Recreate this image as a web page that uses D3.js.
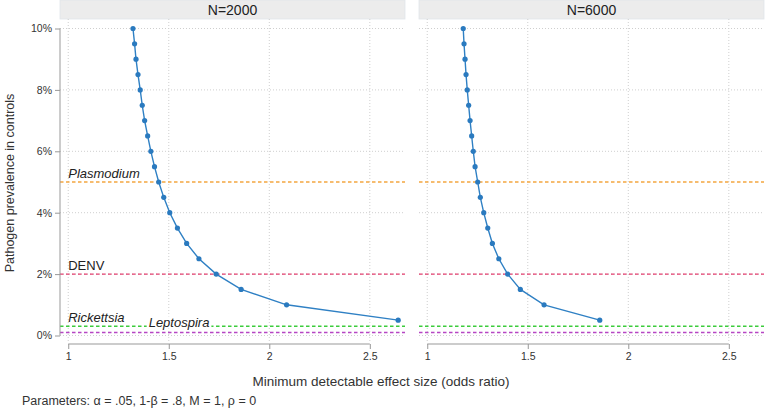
<!DOCTYPE html>
<html>
<head>
<meta charset="utf-8">
<script src="https://cdn.jsdelivr.net/npm/d3@7"></script>
<style>
  body { margin: 0; background: #fff; }
  text { font-family: "Liberation Sans", Arial, sans-serif; fill: #333; }
</style>
</head>
<body>
<div id="chart"></div>
<script>
// Data //
var panels = ["N=2000", "N=6000"];
var prevalence = [10, 9.5, 9, 8.5, 8, 7.5, 7, 6.5, 6, 5.5, 5, 4.5, 4, 3.5, 3, 2.5, 2, 1.5, 1, 0.5];
var oddsN2000 = [1.322, 1.330, 1.337, 1.347, 1.358, 1.368, 1.380, 1.395, 1.411, 1.429, 1.450, 1.475, 1.505, 1.543, 1.589, 1.650, 1.736, 1.860, 2.086, 2.641];
var oddsN6000 = [1.179, 1.183, 1.188, 1.193, 1.199, 1.206, 1.213, 1.221, 1.229, 1.238, 1.251, 1.264, 1.281, 1.301, 1.324, 1.356, 1.400, 1.463, 1.581, 1.858];
var pathogens = ["Plasmodium", "DENV", "Rickettsia", "Leptospira"];
var pathogenPrev = [5, 2, 0.3, 0.1];
var pathogenColors = ["#f3a640", "#e43c6e", "#3ccc3c", "#b646c4"];
var xTicks = [1, 1.5, 2, 2.5];
var yTicks = [0, 2, 4, 6, 8, 10];

// SVG Setup //
var width = 768, height = 410;
var svg = d3.select("#chart").append("svg")
  .attr("width", width)
  .attr("height", height);

var plotTop = 19, plotBottom = 343, headerH = 19;
var panelX = [60, 419], panelW = 345;
var curves = [oddsN2000, oddsN6000];

var y = d3.scaleLinear()
  .domain([0, 10])
  .range([335.5, 28.5]);

panels.forEach(function(name, p) {
  var x = d3.scaleLinear()
    .domain([0.959, 2.675])
    .range([panelX[p], panelX[p] + panelW]);

  var g = svg.append("g").attr("class", "panel");

  // header strip
  g.append("rect")
    .attr("x", panelX[p]).attr("y", 0)
    .attr("width", panelW).attr("height", headerH)
    .attr("fill", "#ececec")
    .attr("stroke", "#e2e6ea")
    .attr("stroke-width", 0.8);
  g.append("text")
    .attr("x", panelX[p] + panelW / 2)
    .attr("y", 15)
    .attr("text-anchor", "middle")
    .style("font-size", "14px")
    .style("fill", "#222")
    .text(name);

  // grid
  g.selectAll(".vgrid").data(xTicks).enter().append("line")
    .attr("x1", x).attr("x2", x)
    .attr("y1", plotTop).attr("y2", plotBottom)
    .attr("stroke", "#cfcfcf").attr("stroke-dasharray", "1,2");
  g.selectAll(".hgrid").data(yTicks).enter().append("line")
    .attr("x1", panelX[p]).attr("x2", panelX[p] + panelW)
    .attr("y1", y).attr("y2", y)
    .attr("stroke", "#cfcfcf").attr("stroke-dasharray", "1,2");

  // pathogen reference lines
  g.selectAll(".ref").data(pathogenPrev).enter().append("line")
    .attr("x1", panelX[p]).attr("x2", panelX[p] + panelW)
    .attr("y1", function(d) { return y(d); })
    .attr("y2", function(d) { return y(d); })
    .attr("stroke", function(d, i) { return pathogenColors[i]; })
    .attr("stroke-width", 1.4)
    .attr("stroke-dasharray", "3.5,2.5");

  // labels only on first panel
  if (p === 0) {
    var labX = [x(1), x(1), x(1), x(1.4)];
    var labDy = [-4.5, -4.5, -4.5, -5];
    pathogens.forEach(function(lab, i) {
      var t = g.append("text")
        .attr("x", labX[i])
        .attr("y", y(pathogenPrev[i]) + labDy[i])
        .style("font-size", "13px")
        .style("font-style", lab === "DENV" ? "normal" : "italic")
        .style("fill", "#222")
        .text(lab);
      if (lab === "Leptospira") {
        var bb = t.node().getBBox();
        g.insert("rect", function() { return t.node(); })
          .attr("x", bb.x - 2).attr("y", bb.y + 1)
          .attr("width", bb.width + 4).attr("height", bb.height - 3)
          .attr("fill", "#fff");
      }
    });
  }

  // curve
  var pts = prevalence.map(function(d, i) { return {p: d, or: curves[p][i]}; });
  var line = d3.line()
    .x(function(d) { return x(d.or); })
    .y(function(d) { return y(d.p); });
  g.append("path")
    .datum(pts)
    .attr("d", line)
    .attr("fill", "none")
    .attr("stroke", "#2f80c4")
    .attr("stroke-width", 1.4);
  g.selectAll(".dot").data(pts).enter().append("circle")
    .attr("cx", function(d) { return x(d.or); })
    .attr("cy", function(d) { return y(d.p); })
    .attr("r", 2.6)
    .attr("fill", "#2a7abf");

  // x axis
  var xAxis = d3.axisBottom(x)
    .tickValues(xTicks)
    .tickSize(5)
    .tickSizeOuter(0)
    .tickFormat(function(d) { return d; });
  var ga = g.append("g")
    .attr("transform", "translate(0," + 344 + ")")
    .call(xAxis);
  ga.select(".domain").attr("d", "M" + x(1) + ",0H" + x(2.5)).attr("stroke", "#999");
  ga.selectAll(".tick line").attr("stroke", "#999");
  ga.selectAll(".tick text")
    .attr("y", 9)
    .style("font-size", "10.5px")
    .style("fill", "#333")
    .style("font-family", "Liberation Sans, Arial, sans-serif");
});

// y axis
var yAxis = d3.axisLeft(y)
  .tickValues(yTicks)
  .tickSize(5)
  .tickSizeOuter(0)
  .tickFormat(function(d) { return d + "%"; });
var gy = svg.append("g")
  .attr("transform", "translate(60,0)")
  .call(yAxis);
gy.select(".domain").attr("d", "M0," + y(10) + "V" + y(0)).attr("stroke", "#999");
gy.selectAll(".tick line").attr("stroke", "#999");
gy.selectAll(".tick text")
  .attr("x", -8)
  .style("font-size", "10.5px")
  .style("fill", "#333")
  .style("font-family", "Liberation Sans, Arial, sans-serif");

// titles
svg.append("text")
  .attr("transform", "translate(14," + 183 + ") rotate(-90)")
  .attr("text-anchor", "middle")
  .style("font-size", "12.5px")
  .text("Pathogen prevalence in controls");

svg.append("text")
  .attr("x", 381)
  .attr("y", 386)
  .attr("text-anchor", "middle")
  .style("font-size", "13.5px")
  .text("Minimum detectable effect size (odds ratio)");

svg.append("text")
  .attr("x", 22)
  .attr("y", 405)
  .style("font-size", "12.5px")
  .text("Parameters: \u03b1 = .05, 1-\u03b2 = .8, M = 1, \u03c1 = 0");
</script>
</body>
</html>
